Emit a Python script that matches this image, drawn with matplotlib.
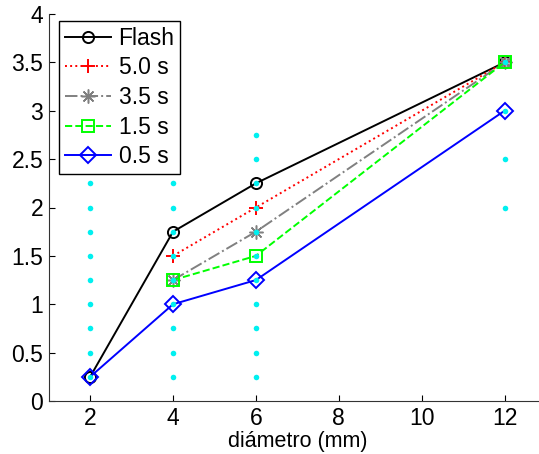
import matplotlib
matplotlib.use('Agg')
import matplotlib.pyplot as plt

plt.rcParams['font.family'] = ['Liberation Sans', 'DejaVu Sans']

# measured curves: diameter (mm) vs score
x_flash = [2, 4, 6, 12]
y_flash = [0.25, 1.75, 2.25, 3.5]
x_5s = [4, 6, 12]
y_5s = [1.5, 2.0, 3.5]
x_35s = [4, 6, 12]
y_35s = [1.25, 1.75, 3.5]
x_15s = [4, 6, 12]
y_15s = [1.25, 1.5, 3.5]
x_05s = [2, 4, 6, 12]
y_05s = [0.25, 1.0, 1.25, 3.0]

# individual observations (cyan points), one list per diameter
obs_x = [2, 4, 6, 12]
obs_y = [
    [0.25, 0.5, 0.75, 1.0, 1.25, 1.5, 1.75, 2.0, 2.25],
    [0.25, 0.5, 0.75, 1.0, 1.25, 1.5, 1.75, 2.0, 2.25],
    [0.25, 0.5, 0.75, 1.0, 1.25, 1.5, 1.75, 2.0, 2.25, 2.5, 2.75],
    [2.0, 2.5, 3.0, 3.5],
]

W, H = 539, 454
fig = plt.figure(figsize=(W / 100, H / 100), dpi=100)
ax = fig.add_axes([48.7 / W, 53 / H, (546 - 48.7) / W, 387 / H])

lw, ms, mew = 1.4, 8, 1.4
ax.plot(x_flash, y_flash, '-', color='black', marker='o', mfc='none', lw=lw, ms=ms, mew=mew, label='Flash')
ax.plot(x_5s, y_5s, ':', color='red', marker='+', lw=lw, ms=ms + 2, mew=mew, label='5.0 s')
ax.plot(x_35s, y_35s, '-.', color=(0.5, 0.5, 0.5), marker=(8, 2, 0), lw=lw, ms=ms + 2, mew=1.1, label='3.5 s')
ax.plot(x_15s, y_15s, '--', color=(0, 1, 0), marker='s', mfc='none', lw=lw, ms=ms, mew=mew, label='1.5 s')
ax.plot(x_05s, y_05s, '-', color='blue', marker='D', mfc='none', lw=lw, ms=ms, mew=mew, label='0.5 s')

for xv, ys in zip(obs_x, obs_y):
    ax.plot([xv] * len(ys), ys, 'o', color='#00f0f0', ms=4, mew=0, zorder=5)

ax.set_xlim(1, 13)
ax.set_ylim(0, 4)
ax.set_xticks([2, 4, 6, 8, 10, 12])
ax.set_yticks([0, 0.5, 1, 1.5, 2, 2.5, 3, 3.5, 4])
ax.set_yticklabels(['0', '0.5', '1', '1.5', '2', '2.5', '3', '3.5', '4'])
ax.tick_params(direction='in', length=4, width=0.8, labelsize=16.5, colors='black', pad=4)
for s in ['top', 'right']:
    ax.spines[s].set_visible(False)
for s in ['left', 'bottom']:
    ax.spines[s].set_linewidth(0.8)
    ax.spines[s].set_color('#333333')
ax.set_xlabel('diámetro (mm)', fontsize=15.5, labelpad=1)

leg = ax.legend(loc='upper left', bbox_to_anchor=(0.0207, 0.982), fontsize=16.5,
                fancybox=False, framealpha=1, edgecolor='black', handlelength=2.0,
                borderpad=0.25, labelspacing=0.29, handletextpad=0.35, borderaxespad=0)
leg.get_frame().set_linewidth(1.0)

fig.savefig('out.png', dpi=100)
